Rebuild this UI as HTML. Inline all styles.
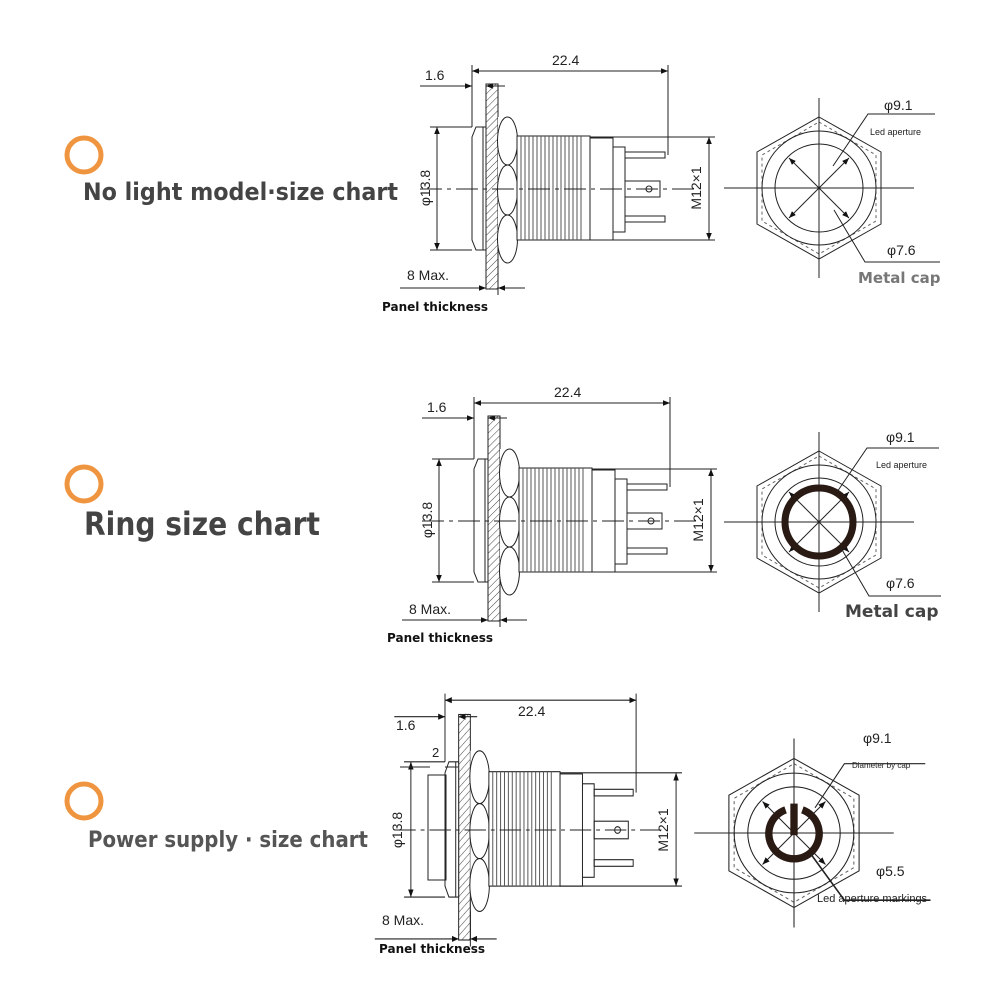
<!DOCTYPE html>
<html><head><style>
html,body{margin:0;padding:0;background:#fff;}
svg{display:block;}
.t{font-family:"Liberation Sans",sans-serif;fill:#222;}
.b{font-family:"DejaVu Sans","Liberation Sans",sans-serif;font-weight:bold;}
</style></head><body>
<svg width="1000" height="1000" viewBox="0 0 1000 1000" xmlns="http://www.w3.org/2000/svg">
<defs>
<pattern id="h" width="5" height="5" patternUnits="userSpaceOnUse" patternTransform="rotate(45)">
<line x1="0" y1="0" x2="0" y2="5" stroke="#444" stroke-width="1"/>
</pattern>
<marker id="a" viewBox="0 0 10 10" refX="10" refY="5" markerWidth="7" markerHeight="7" orient="auto-start-reverse" markerUnits="userSpaceOnUse">
<path d="M0,1 L10,5 L0,9 z" fill="#111"/>
</marker>
<g id="side" fill="none" stroke="#222" stroke-width="1">
<line x1="472" y1="65" x2="472" y2="127"/>
<line x1="668" y1="65" x2="668" y2="155"/>
<line x1="472" y1="71" x2="668" y2="71" marker-start="url(#a)" marker-end="url(#a)"/>
<line x1="420" y1="86" x2="472" y2="86" marker-end="url(#a)"/>
<line x1="486" y1="86" x2="505" y2="86" marker-start="url(#a)"/>
<rect x="486" y="84" width="12" height="205" fill="url(#h)"/>
<path d="M476,127 L486,127 L486,250 L476,250 L472,240 L472,137 Z" fill="#fff"/>
<line x1="483" y1="127" x2="483" y2="250"/>
<rect x="498" y="117" width="19" height="146" fill="#fff" stroke="none"/>
<ellipse cx="507.5" cy="141" rx="10" ry="24" fill="#fff"/>
<ellipse cx="507.5" cy="190" rx="10" ry="25" fill="#fff"/>
<ellipse cx="507.5" cy="239" rx="10" ry="24" fill="#fff"/>
<rect x="517" y="136" width="73" height="104" fill="#fff"/>
<path d="M521,136V240M525,136V240M529,136V240M533,136V240M537,136V240M541,136V240M545,136V240M549,136V240M553,136V240M557,136V240M561,136V240M565,136V240M569,136V240M573,136V240M577,136V240M581,136V240" stroke="#555"/>
<rect x="590" y="138" width="23" height="102" fill="#fff"/>
<rect x="613" y="147" width="12" height="85" fill="#fff"/>
<rect x="625" y="152" width="40" height="6"/>
<rect x="625" y="216" width="40" height="6"/>
<rect x="625" y="181" width="35" height="16"/>
<circle cx="649" cy="189" r="3"/>
<line x1="590" y1="137" x2="715" y2="137"/>
<line x1="590" y1="240" x2="715" y2="240"/>
<line x1="709" y1="137" x2="709" y2="240" marker-start="url(#a)" marker-end="url(#a)"/>
<line x1="430" y1="127" x2="472" y2="127"/>
<line x1="430" y1="250" x2="472" y2="250"/>
<line x1="437" y1="127" x2="437" y2="250" marker-start="url(#a)" marker-end="url(#a)"/>
<line x1="420" y1="189" x2="695" y2="189" stroke-dasharray="22,5,4,5"/>
<line x1="498" y1="250" x2="498" y2="295"/>
<line x1="400" y1="288" x2="486" y2="288" marker-end="url(#a)"/>
<line x1="498" y1="288" x2="525" y2="288" marker-start="url(#a)"/>
</g>
<g id="front" fill="none" stroke="#222" stroke-width="1">
<polygon points="0,-71 62,-36 62,36 0,71 -62,36 -62,-36"/>
<polygon points="0,-66 57,-33 57,33 0,66 -57,33 -57,-33" stroke-dasharray="3,3" stroke="#666"/>
<circle r="57"/>
<circle r="44"/>
<line x1="-95" y1="0" x2="95" y2="0"/>
<line x1="0" y1="-90" x2="0" y2="90"/>
<line x1="-30" y1="-30" x2="30" y2="30" marker-start="url(#a)" marker-end="url(#a)"/>
<line x1="30" y1="-30" x2="-30" y2="30" marker-start="url(#a)" marker-end="url(#a)"/>
</g>
</defs>

<circle cx="84" cy="155" r="17" fill="none" stroke="#f0953f" stroke-width="5"/>
<circle cx="84" cy="484" r="17" fill="none" stroke="#f0953f" stroke-width="5"/>
<circle cx="84" cy="801" r="17" fill="none" stroke="#f0953f" stroke-width="5"/>
<text x="83" y="200" class="b" font-size="24" fill="#444" textLength="315" lengthAdjust="spacingAndGlyphs">No light model·size chart</text>
<text x="84" y="535" class="b" font-size="32" fill="#444" textLength="236" lengthAdjust="spacingAndGlyphs">Ring size chart</text>
<text x="88" y="847" class="b" font-size="22" fill="#555" textLength="280" lengthAdjust="spacingAndGlyphs">Power supply · size chart</text>

<!-- Row 1 -->
<use href="#side"/>
<text class="t" x="425" y="80" font-size="14">1.6</text>
<text class="t" x="552" y="65" font-size="14">22.4</text>
<text class="t" x="407" y="280" font-size="14">8 Max.</text>
<text class="t" transform="translate(430,188) rotate(-90)" font-size="14" text-anchor="middle">φ13.8</text>
<text class="t" transform="translate(701,188) rotate(-90)" font-size="14" text-anchor="middle">M12×1</text>
<text x="382" y="311" class="b" font-size="12" fill="#111">Panel thickness</text>
<g transform="translate(819,188)"><use href="#front"/>
<polyline points="14,-22 49,-74 116,-74" fill="none" stroke="#222"/>
<polyline points="15,22 46,74 121,74" fill="none" stroke="#222"/></g>
<text class="t" x="884" y="110" font-size="14">φ9.1</text>
<text class="t" x="870" y="135" font-size="9">Led aperture</text>
<text class="t" x="887" y="255" font-size="14">φ7.6</text>
<text x="858" y="283" class="b" font-size="15" fill="#777">Metal cap</text>

<!-- Row 2 -->
<g transform="translate(2,332)"><use href="#side"/></g>
<text class="t" x="427" y="412" font-size="14">1.6</text>
<text class="t" x="554" y="397" font-size="14">22.4</text>
<text class="t" x="409" y="614" font-size="14">8 Max.</text>
<text class="t" transform="translate(432,520) rotate(-90)" font-size="14" text-anchor="middle">φ13.8</text>
<text class="t" transform="translate(703,520) rotate(-90)" font-size="14" text-anchor="middle">M12×1</text>
<text x="387" y="642" class="b" font-size="12" fill="#111">Panel thickness</text>
<g transform="translate(819,522)"><use href="#front"/>
<circle r="34" fill="none" stroke="#2a1a14" stroke-width="7"/>
<polyline points="18,-30 48,-74 120,-74" fill="none" stroke="#222"/>
<polyline points="22,26 50,74 122,74" fill="none" stroke="#222"/></g>
<text class="t" x="886" y="442" font-size="14">φ9.1</text>
<text class="t" x="876" y="468" font-size="9">Led aperture</text>
<text class="t" x="886" y="588" font-size="14">φ7.6</text>
<text x="845" y="617" class="b" font-size="17" fill="#444">Metal cap</text>

<!-- Row 3 -->
<g transform="translate(445,830) scale(0.975,1.1) translate(-472,-189)"><use href="#side"/></g>
<line x1="400" y1="767" x2="430" y2="767" stroke="#222"/>
<line x1="445" y1="767" x2="458" y2="767" stroke="#222"/>
<rect x="428" y="775" width="18" height="105" fill="none" stroke="#222"/>
<text class="t" x="396" y="730" font-size="14">1.6</text>
<text class="t" x="432" y="757" font-size="13">2</text>
<text class="t" x="518" y="716" font-size="14">22.4</text>
<text class="t" x="382" y="925" font-size="14">8 Max.</text>
<text class="t" transform="translate(402,830) rotate(-90)" font-size="14" text-anchor="middle">φ13.8</text>
<text class="t" transform="translate(668,830) rotate(-90)" font-size="14" text-anchor="middle">M12×1</text>
<text x="379" y="953" class="b" font-size="12" fill="#111">Panel thickness</text>
<g transform="translate(794,833) scale(1.05)"><use href="#front"/>
<path d="M-8,-22 A24,24 0 1,0 8,-22" fill="none" stroke="#2a1a14" stroke-width="7"/>
<line x1="0" y1="-28" x2="0" y2="2" stroke="#2a1a14" stroke-width="7"/>
<polyline points="20,-24 48,-66 125,-66" fill="none" stroke="#222"/>
<polyline points="16,20 48,64 130,64" fill="none" stroke="#222" stroke-width="1.5"/></g>
<text class="t" x="863" y="743" font-size="14">φ9.1</text>
<text class="t" x="852" y="768" font-size="8">Diameter by cap</text>
<text class="t" x="876" y="876" font-size="14">φ5.5</text>
<text class="t" x="817" y="902" font-size="11">Led aperture markings</text>
</svg>
</body></html>
